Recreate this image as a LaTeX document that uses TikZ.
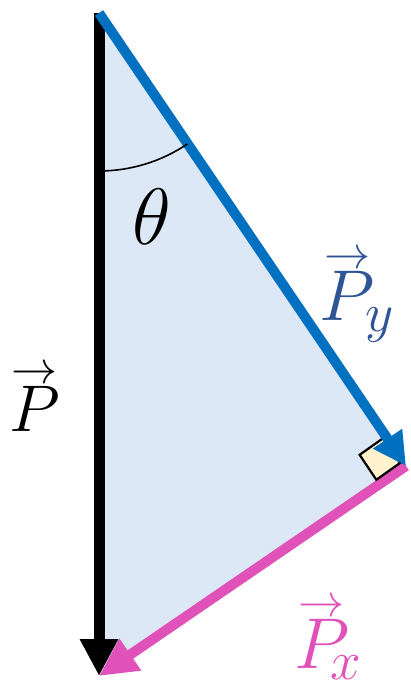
\RequirePackage{fix-cm}
\documentclass[tikz,border=0pt]{standalone}
\usepackage{amsmath}
\usetikzlibrary{arrows.meta,calc}
\DeclareMathSizes{66}{66}{48}{35}
\DeclareMathSizes{72}{72}{55}{36}
\definecolor{triblue}{HTML}{DCE8F5}
\definecolor{lineblue}{HTML}{0070C0}
\definecolor{linepink}{HTML}{E052B9}
\definecolor{textblue}{HTML}{2F5597}
\definecolor{anglefill}{HTML}{FFF2CC}
\newcommand{\vecarr}[1]{\overset{\raisebox{-5pt}{\fontsize{46}{46}\selectfont$\rightarrow$}}{#1}}
\tikzset{
  vecarrow/.style={line width=#1},
  smalllabel/.style={font=\fontsize{66}{74}\selectfont, inner sep=0pt},
  biglabel/.style={font=\fontsize{72}{80}\selectfont, inner sep=0pt},
}
\begin{document}
\begin{tikzpicture}[x=1pt,y=1pt]
\useasboundingbox[fill=white] (0,0) rectangle (411,-687);
\coordinate (A) at (99,-13);
\coordinate (B) at (406,-466);
\coordinate (C) at (99,-676);
% triangle
\fill[triblue] (A) -- (B) -- (C) -- cycle;
% vectors
\draw[vecarrow=11pt, black, -{Triangle[length=37pt,width=36pt]}] (A) -- (C);
\draw[vecarrow=10pt, linepink, -{Triangle[length=38pt,width=36pt]}] (B) -- (C);
% right-angle marker
\coordinate (Bp) at (400,-463);
\coordinate (q1) at ($(Bp)!30pt!(A)$);
\coordinate (q2) at ($(Bp)!29pt!(C)$);
\coordinate (q3) at ($(q1)+(q2)-(Bp)$);
\draw[fill=anglefill, line width=2.2pt, line join=miter] (Bp) -- (q1) -- (q3) -- (q2) -- cycle;
\draw[vecarrow=10pt, lineblue, -{Triangle[length=33pt,width=33pt]}] (A) -- (B);
% angle arc
\draw[line width=1.6pt] ($(A)+(0,-158)$) arc[start angle=-90, end angle=-56, radius=158pt];
% labels
\node[font=\fontsize{80}{90}\selectfont, inner sep=0pt] (th) at (152,-217) {$\theta$};
\node[smalllabel, black] (lp) at (35,-398) {$\vecarr{P}$};
\node[biglabel, textblue] (lpy) at (357,-296) {$\vecarr{P}_{\!y}$};
\node[biglabel, linepink] (lpx) at (328,-638) {$\vecarr{P}_{\!\!x}$};
\end{tikzpicture}
\end{document}
